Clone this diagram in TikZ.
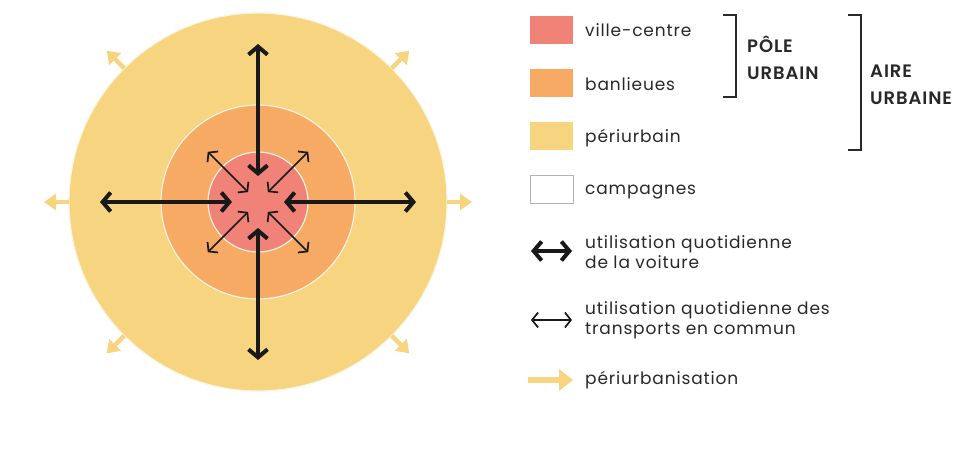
\documentclass[tikz,border=0pt]{standalone}
\usepackage{fontspec}
\setmainfont{Poppins}[LetterSpace=5,BoldFont={Poppins SemiBold}]
\usetikzlibrary{arrows.meta,calc}
\definecolor{ville}{RGB}{240,130,120}
\definecolor{banl}{RGB}{246,170,100}
\definecolor{peri}{RGB}{246,212,128}
\definecolor{ink}{RGB}{25,25,25}
\definecolor{txt}{RGB}{40,40,40}
\begin{document}
\begin{tikzpicture}[x=1pt,y=-1pt,
  zone/.style={circle,inner sep=0pt,draw=white!75!peri,line width=1.2pt},
  car/.style={draw=ink,line width=4pt,line cap=round,
    {Straight Barb[length=8pt,width=19pt,line width=4pt]}-{Straight Barb[length=8pt,width=19pt,line width=4pt]}},
  bus/.style={draw=ink,line width=1.7pt,
    {Straight Barb[length=6pt,width=15pt,line width=1.7pt]}-{Straight Barb[length=6pt,width=15pt,line width=1.7pt]}},
  spread/.style={draw=peri,line width=4.5pt,-{Triangle[length=12pt,width=16pt]}},
  bigspread/.style={draw=peri,line width=5.5pt,-{Triangle[length=14pt,width=21pt]}},
  key/.style={rectangle,inner sep=0pt,minimum width=43pt,minimum height=28pt},
  lbl/.style={anchor=west,align=left,text=txt,inner sep=0pt,font=\fontsize{17}{20}\selectfont},
  big/.style={anchor=west,align=left,text=txt,inner sep=0pt,font=\bfseries\fontsize{18}{27}\selectfont},
  brk/.style={draw=txt,line width=1.8pt}
]
\useasboundingbox (0,0) rectangle (965,453);
% circles
\coordinate (C) at (258,202);
\node[zone,fill=peri,minimum size=378pt] (outer) at (C) {};
\node[zone,fill=banl,minimum size=194pt] (mid) at (C) {};
\node[zone,fill=ville,minimum size=100pt] (inner) at (C) {};
% periurbanisation arrows
\foreach \a/\n in {0/e,45/ne,135/nw,180/w,225/sw,315/se}{
  \coordinate (s\n) at ($(C)+(\a:189)$);
  \coordinate (t\n) at ($(C)+(\a:214)$);
  \draw[spread] (s\n) -- (t\n);
}
% car arrows
\foreach \a/\n in {90/n,270/s,180/w,0/e}{
  \coordinate (ci\n) at ($(C)+(\a:26)$);
  \coordinate (co\n) at ($(C)+(\a:158)$);
  \draw[car] (ci\n) -- (co\n);
}
% transit arrows
\foreach \a/\n in {45/ne,135/nw,225/sw,315/se}{
  \coordinate (bi\n) at ($(C)+(\a:14)$);
  \coordinate (bo\n) at ($(C)+(\a:71)$);
  \draw[bus] (bi\n) -- (bo\n);
}
% legend boxes
\node[key,fill=ville] (k1) at (551.5,30) {};
\node[key,fill=banl] (k2) at (551.5,83) {};
\node[key,fill=peri] (k3) at (551.5,136) {};
\node[key,draw=black!30,line width=1pt,fill=white] (k4) at (551.5,189.5) {};
\node[lbl] (l1) at (585,30) {ville-centre};
\node[lbl] (l2) at (585,84) {banlieues};
\node[lbl] (l3) at (585,138) {périurbain};
\node[lbl] (l4) at (585,192) {campagnes};
% brackets
\coordinate (b1a) at (723,15); \coordinate (b1b) at (736,15);
\coordinate (b1c) at (736,97); \coordinate (b1d) at (723,97);
\draw[brk] (b1a) -- (b1b) -- (b1c) -- (b1d);
\coordinate (b2a) at (848,15); \coordinate (b2b) at (861,15);
\coordinate (b2c) at (861,150); \coordinate (b2d) at (848,150);
\draw[brk] (b2a) -- (b2b) -- (b2c) -- (b2d);
\node[big] (pole) at (747,57.5) {PÔLE\\URBAIN};
\node[big] (aire) at (870,84.5) {AIRE\\URBAINE};
% arrow legend
\coordinate (la1) at (531,251); \coordinate (lb1) at (572,251);
\draw[car] (la1) -- (lb1);
\node[lbl] (l5) at (585,252) {utilisation quotidienne\\de la voiture};
\coordinate (la2) at (531,320); \coordinate (lb2) at (572,320);
\draw[bus] (la2) -- (lb2);
\node[lbl] (l6) at (585,320) {utilisation quotidienne des\\transports en commun};
\coordinate (la3) at (528,380); \coordinate (lb3) at (573,380);
\draw[bigspread] (la3) -- (lb3);
\node[lbl] (l7) at (585,380) {périurbanisation};
\end{tikzpicture}
\end{document}
